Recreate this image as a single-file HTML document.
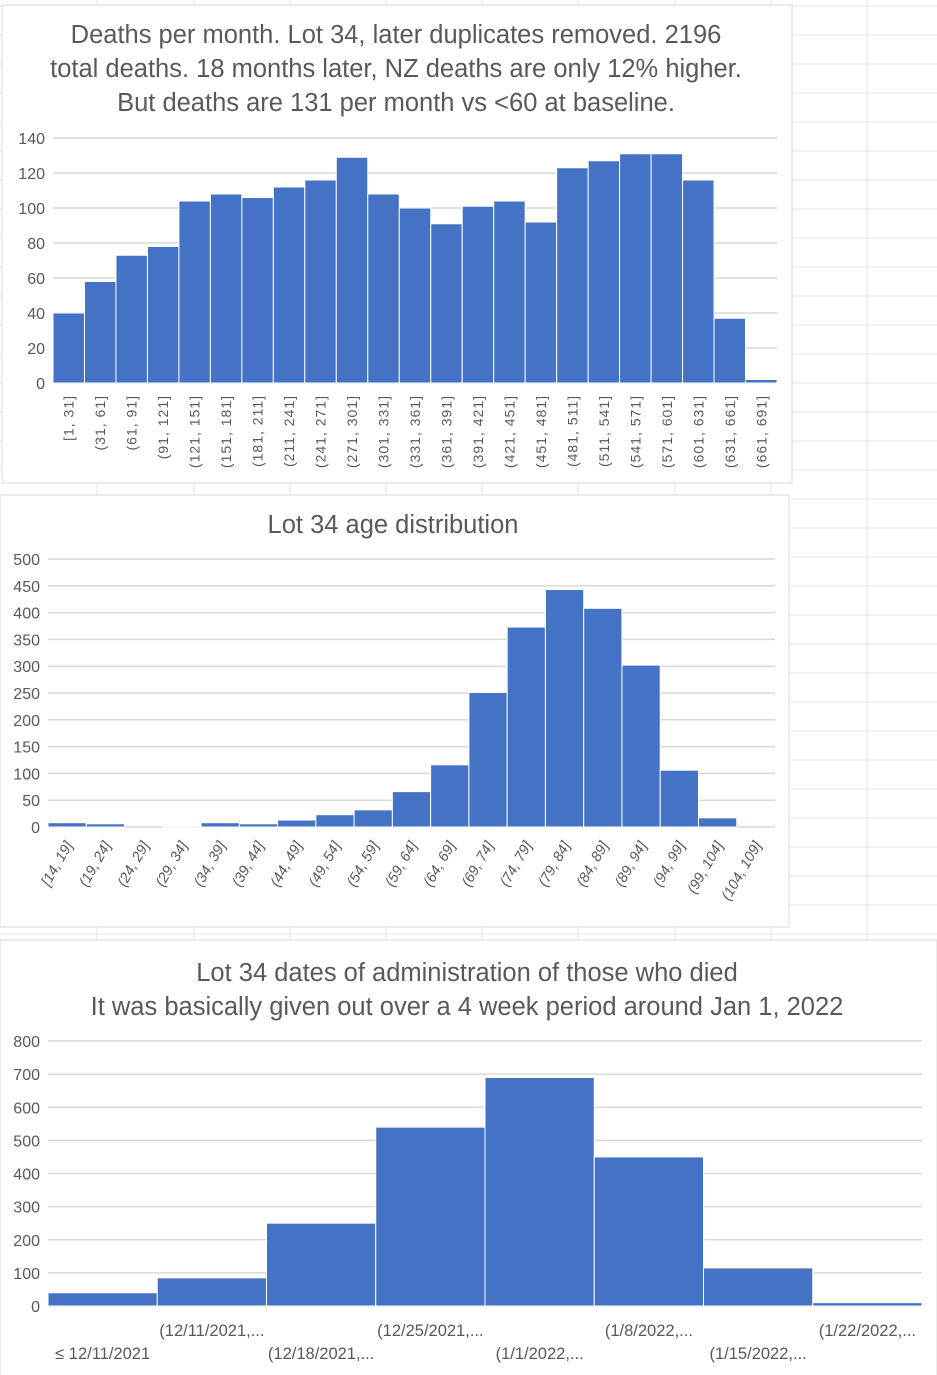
<!DOCTYPE html>
<html><head><meta charset="utf-8">
<style>
body{margin:0;width:937px;height:1375px;background:#fff;overflow:hidden;font-family:"Liberation Sans",sans-serif;}
svg{position:absolute;left:0;top:0}
</style></head>
<body>
<svg id="s" width="937" height="1375"></svg>
<script>
const c1Cats=["[1, 31]","(31, 61]","(61, 91]","(91, 121]","(121, 151]","(151, 181]","(181, 211]","(211, 241]","(241, 271]","(271, 301]","(301, 331]","(331, 361]","(361, 391]","(391, 421]","(421, 451]","(451, 481]","(481, 511]","(511, 541]","(541, 571]","(571, 601]","(601, 631]","(631, 661]","(661, 691]"];
const c1Vals=[40,58,73,78,104,108,106,112,116,129,108,100,91,101,104,92,123,127,131,131,116,37,2];
const c1Ticks=[0,20,40,60,80,100,120,140];
const c2Cats=["[14, 19]","(19, 24]","(24, 29]","(29, 34]","(34, 39]","(39, 44]","(44, 49]","(49, 54]","(54, 59]","(59, 64]","(64, 69]","(69, 74]","(74, 79]","(79, 84]","(84, 89]","(89, 94]","(94, 99]","(99, 104]","(104, 109]"];
const c2Vals=[8,6,0,2,8,6,13,23,32,66,116,251,373,443,408,302,106,17,0];
const c2Ticks=[0,50,100,150,200,250,300,350,400,450,500];
const c3Cats=["≤ 12/11/2021","(12/11/2021,...","(12/18/2021,...","(12/25/2021,...","(1/1/2022,...","(1/8/2022,...","(1/15/2022,...","(1/22/2022,..."];
const c3Vals=[40,85,250,540,690,450,115,10];
const c3Ticks=[0,100,200,300,400,500,600,700,800];

const s=document.getElementById('s');
const NS="http://www.w3.org/2000/svg";
function el(t,a,txt){const e=document.createElementNS(NS,t);for(const k in a)e.setAttribute(k,a[k]);if(txt!==undefined)e.textContent=txt;s.appendChild(e);return e;}

for(let y=6;y<1375;y+=29){const l=el('line',{x1:0,x2:937,y1:y,y2:y,stroke:'#e3e3e3'});

}
[97,194,290,386,482,578,675,771,867].forEach(x=>{const l=el('line',{x1:x,x2:x,y1:0,y2:1375,stroke:'#e3e3e3'});

});

function chart(o){
 const p=el('rect',{x:o.px,y:o.py,width:o.pw,height:o.ph,fill:'#fff',stroke:'#d9d9d9'});
 
 
 o.title.forEach((t,i)=>{const e=el('text',{x:o.tx,y:o.ty+i*34,'text-anchor':'middle','font-size':25.5,fill:'#595959'},t);
 
 });
 const max=o.ticks[o.ticks.length-1];
 const Y=v=>o.y0-(v/max)*(o.y0-o.y1);
 const bw=(o.x1-o.x0)/o.vals.length;
 const X=i=>o.x0+i*bw;
 o.ticks.forEach(t=>{const g=el('line',{x1:o.x0,x2:o.x1,y1:Y(t),y2:Y(t),stroke:'#d9d9d9','stroke-width':1.5});
 
 
 const tl=el('text',{x:o.x0-8,y:Y(t)+6,'text-anchor':'end','font-size':16,fill:'#595959'},t);
 
 });
 o.vals.forEach((v,i)=>{const b=el('rect',{x:X(i),y:Y(v),width:bw,height:o.y0-Y(v),fill:'#4472c4',stroke:'#fff','stroke-width':1});
 
 
 let t;
 if(o.lab==='v'){t=el('text',{transform:`translate(${X(i)+bw/2+5},${o.y0+12}) rotate(-90)`,'text-anchor':'end','font-size':14,fill:'#595959','letter-spacing':'1'},o.cats[i]);}
 else if(o.lab==='d'){t=el('text',{transform:`translate(${X(i)+bw/2+6},${o.y0+18}) rotate(-60)`,'text-anchor':'end','font-size':14.5,'font-style':'italic',fill:'#595959'},o.cats[i]);}
 else {t=el('text',{x:X(i)+bw/2,y:o.y0+(i%2?30:53),'text-anchor':'middle','font-size':16.5,fill:'#595959'},o.cats[i]);}
 
 });
}
chart({name:'deaths-per-month',px:2,py:5,pw:790,ph:478,tx:396,ty:43,title:["Deaths per month. Lot 34, later duplicates removed. 2196","total deaths. 18 months later, NZ deaths are only 12% higher.","But deaths are 131 per month vs <60 at baseline."],x0:53,x1:777,y0:383,y1:138,vals:c1Vals,cats:c1Cats,ticks:c1Ticks,lab:'v'});
chart({name:'age-distribution',px:0,py:495,pw:789,ph:432,tx:393,ty:533,title:["Lot 34 age distribution"],x0:48,x1:775,y0:827,y1:559,vals:c2Vals,cats:c2Cats,ticks:c2Ticks,lab:'d'});
chart({name:'administration-dates',px:0,py:940,pw:937,ph:440,tx:467,ty:981,title:["Lot 34 dates of administration of those who died","It was basically given out over a 4 week period around Jan 1, 2022"],x0:48,x1:922,y0:1306,y1:1041,vals:c3Vals,cats:c3Cats,ticks:c3Ticks,lab:'h'});
</script>
</body></html>
